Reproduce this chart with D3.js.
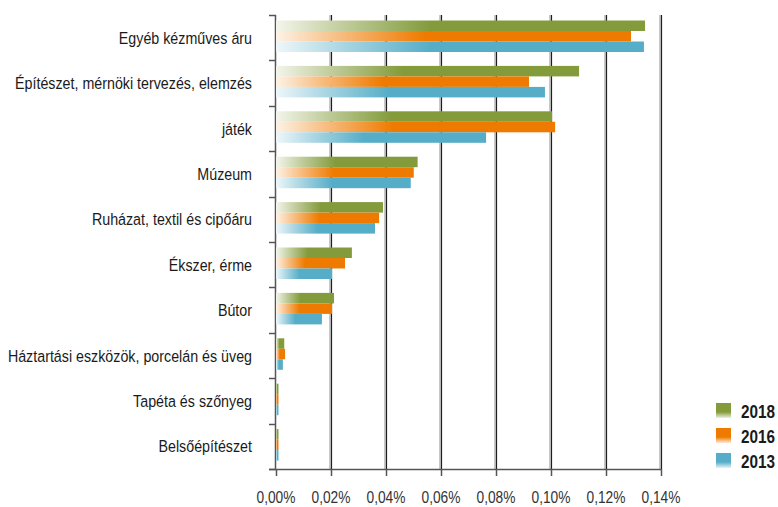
<!DOCTYPE html>
<html lang="hu">
<head>
<meta charset="UTF-8">
<title>Bar chart</title>
<script src="https://cdn.jsdelivr.net/npm/d3@7.9.0/dist/d3.min.js"></script>
<style>
    body { margin: 0; background: #fff; }
    svg { display: block; }
    text { font-family: "Liberation Sans", Arial, sans-serif; fill: #1a1a1a; }
    .cat { font-size: 17px; }
    .tick-label { font-size: 17px; fill: #333; }
    .legend-text { font-size: 19px; font-weight: bold; }
</style>
</head>
<body>
<svg id="chart" width="778" height="507"></svg>
<script>
// --- data (percent) ---
const categories = [
    "Egyéb kézműves áru",
    "Építészet, mérnöki tervezés, elemzés",
    "játék",
    "Múzeum",
    "Ruházat, textil és cipőáru",
    "Ékszer, érme",
    "Bútor ",
    "Háztartási eszközök, porcelán és üveg",
    "Tapéta és szőnyeg",
    "Belsőépítészet"
];
const seriesNames = ["2018", "2016", "2013"];
const values2018 = [0.1342, 0.1102, 0.1004, 0.0515, 0.0389, 0.0276, 0.0211, 0.0030, 0.0009, 0.0009];
const values2016 = [0.1291, 0.0920, 0.1015, 0.0501, 0.0375, 0.0251, 0.0204, 0.0033, 0.0009, 0.0009];
const values2013 = [0.1338, 0.0978, 0.0764, 0.0490, 0.0360, 0.0204, 0.0167, 0.0025, 0.0009, 0.0009];
const xTicks = [0, 0.02, 0.04, 0.06, 0.08, 0.10, 0.12, 0.14];
const seriesColors = ["#839b3b", "#ee7b00", "#56adc7"];

const seriesValues = [values2018, values2016, values2013];

const svg = d3.select("#chart");
const defs = svg.append("defs");

const x = d3.scaleLinear().domain([0, 0.14]).range([276, 661]);
const y = d3.scaleBand().domain(categories).range([15, 469]);
const ySub = d3.scaleBand().domain(seriesNames).range([5.5, 37]);
const fmt = v => v.toFixed(2).replace(".", ",") + "%";

// the original uses a condensed face; squeeze the sans horizontally to match
function condense(sel, sample, targetWidth) {
    const probe = svg.append("text").attr("class", sel.attr("class")).text(sample);
    const k = targetWidth / probe.node().getComputedTextLength();
    probe.remove();
    sel.each(function () {
        const t = d3.select(this);
        const tx = +t.attr("x"), ty = +t.attr("y");
        t.attr("x", 0).attr("y", 0)
            .attr("transform", `translate(${tx},${ty}) scale(${k},1)`);
    });
}

// gradients: bars fade from white on the left, legend swatches fade downward
seriesNames.forEach((name, i) => {
    const c = seriesColors[i];
    const bar = defs.append("linearGradient").attr("id", "bar-" + name)
        .attr("x1", 0).attr("x2", 1).attr("y1", 0).attr("y2", 0);
    bar.append("stop").attr("offset", 0).attr("stop-color", d3.interpolateRgb(c, "#fff")(0.9));
    bar.append("stop").attr("offset", 0.18).attr("stop-color", d3.interpolateRgb(c, "#fff")(0.5));
    bar.append("stop").attr("offset", 0.42).attr("stop-color", c);
    bar.append("stop").attr("offset", 1).attr("stop-color", c);

    const leg = defs.append("linearGradient").attr("id", "leg-" + name)
        .attr("x1", 0).attr("x2", 0).attr("y1", 0).attr("y2", 1);
    leg.append("stop").attr("offset", 0).attr("stop-color", c);
    leg.append("stop").attr("offset", 0.6).attr("stop-color", c);
    leg.append("stop").attr("offset", 1).attr("stop-color", d3.interpolateRgb(c, "#fff")(0.85));
});

// gridlines
const grid = svg.append("g");
xTicks.slice(1).forEach(t => {
    grid.append("line")
        .attr("x1", x(t) - 0.5).attr("x2", x(t) - 0.5)
        .attr("y1", 15).attr("y2", 469)
        .attr("stroke", "#c8c8c8").attr("stroke-width", 3);
    grid.append("line")
        .attr("x1", x(t) + 0.5).attr("x2", x(t) + 0.5)
        .attr("y1", 15).attr("y2", 469)
        .attr("stroke", "#1e1e1e").attr("stroke-width", 1.2);
});

// left axis with ticks between categories
const axisColor = "#555";
svg.append("line")
    .attr("x1", 275.5).attr("x2", 275.5).attr("y1", 15).attr("y2", 469)
    .attr("stroke", axisColor).attr("stroke-width", 1.5);
const bounds = categories.map(c => y(c)).concat([469]);
svg.append("g").selectAll("line")
    .data(bounds)
    .join("line")
    .attr("x1", 269).attr("x2", 276)
    .attr("y1", d => Math.round(d) + 0.5).attr("y2", d => Math.round(d) + 0.5)
    .attr("stroke", axisColor).attr("stroke-width", 1.5);

// bars
const rows = svg.append("g").selectAll("g")
    .data(categories)
    .join("g")
    .attr("transform", d => `translate(0,${y(d)})`);

rows.selectAll("rect")
    .data((d, i) => seriesNames.map((s, k) => ({ s, v: seriesValues[k][i] })))
    .join("rect")
    .attr("x", x(0))
    .attr("y", d => ySub(d.s))
    .attr("width", d => x(d.v) - x(0))
    .attr("height", ySub.bandwidth())
    .attr("fill", d => `url(#bar-${d.s})`);

// bottom axis
svg.append("line")
    .attr("x1", 269).attr("x2", 661.5).attr("y1", 469.5).attr("y2", 469.5)
    .attr("stroke", axisColor).attr("stroke-width", 1.5);
const bt = svg.append("g").selectAll("g").data(xTicks).join("g");
bt.append("line")
    .attr("x1", d => x(d) + 0.5).attr("x2", d => x(d) + 0.5)
    .attr("y1", 469).attr("y2", 476)
    .attr("stroke", axisColor).attr("stroke-width", 1.5);
const tickLabels = bt.append("text")
    .attr("class", "tick-label")
    .attr("x", d => x(d))
    .attr("y", 503)
    .attr("text-anchor", "middle")
    .text(fmt);
condense(tickLabels, "0,14%", 39);

// category labels
const catLabels = svg.append("g").selectAll("text")
    .data(categories)
    .join("text")
    .attr("class", "cat")
    .attr("x", 252)
    .attr("y", d => y(d) + y.bandwidth() / 2 + 6)
    .attr("text-anchor", "end")
    .text(d => d);
condense(catLabels, categories[1], 237);

// legend
const legend = svg.append("g").selectAll("g")
    .data(seriesNames)
    .join("g")
    .attr("transform", (d, i) => `translate(716,${403 + i * 25})`);
legend.append("rect")
    .attr("width", 15).attr("height", 15)
    .attr("fill", d => `url(#leg-${d})`);
const legText = legend.append("text")
    .attr("class", "legend-text")
    .attr("x", 25)
    .attr("y", 14.5)
    .text(d => d);
condense(legText, "2018", 34);
</script>
</body>
</html>
